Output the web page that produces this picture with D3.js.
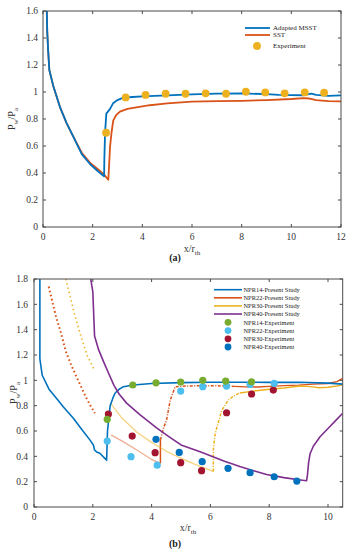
<!DOCTYPE html>
<html><head><meta charset="utf-8">
<script src="https://cdn.jsdelivr.net/npm/d3@7"></script>
<style>body{margin:0;background:#fff}svg{display:block}</style>
</head><body>
<script>
// ---------- Panel (a) data ----------
const aXTicks = [0,2,4,6,8,10,12];
const aYTicks = [0,0.2,0.4,0.6,0.8,1,1.2,1.4,1.6];
const aMsstX = [0.15,0.17,0.21,0.255,0.42,0.68,0.95,1.22,1.56,1.9,2.2,2.46,2.47,2.5,2.55,2.7,2.82,3.0,3.23,3.6,4,5,6,7,8,9,9.5,10,10.5,10.8,11,11.5,12];
const aMsstY = [1.62,1.45,1.3,1.163,1.04,0.89,0.77,0.67,0.54,0.465,0.415,0.375,0.5,0.7,0.84,0.875,0.916,0.94,0.958,0.963,0.968,0.975,0.982,0.988,0.99,0.984,0.978,0.977,0.976,0.988,0.978,0.972,0.975];
const aSstX = [0.15,0.17,0.21,0.255,0.42,0.68,0.95,1.22,1.56,1.9,2.2,2.45,2.63,2.66,2.7,2.76,2.83,2.95,3.1,3.4,3.64,4.3,5,6,7,8,9,10,10.5,10.7,11,11.5,12];
const aSstY = [1.62,1.45,1.3,1.163,1.04,0.89,0.77,0.67,0.55,0.475,0.43,0.39,0.35,0.45,0.595,0.7,0.79,0.83,0.855,0.875,0.882,0.902,0.915,0.928,0.932,0.935,0.94,0.948,0.955,0.952,0.94,0.932,0.93];
const aExpX = [2.54,3.33,4.13,4.94,5.74,6.55,7.37,8.17,8.95,9.73,10.54,11.32];
const aExpY = [0.698,0.96,0.978,0.987,0.987,0.99,0.987,1.002,0.997,0.99,0.997,0.995];
const aLegend = ["Adapted MSST","SST","Experiment"];

// ---------- Panel (b) data ----------
const bXTicks = [0,2,4,6,8,10];
const bYTicks = [0,0.2,0.4,0.6,0.8,1,1.2,1.4,1.6,1.8];
const b14X = [0.2,0.2,0.28,0.51,0.79,1.0,1.34,1.6,1.9,2.02,2.06,2.13,2.24,2.41,2.47,2.5,2.59,2.7,2.76,2.9,3.04,3.38,4,5,6,7,8,9,10,10.5];
const b14Y = [1.82,1.17,1.04,0.93,0.85,0.79,0.70,0.62,0.53,0.49,0.45,0.435,0.424,0.384,0.37,0.6,0.8,0.87,0.9,0.93,0.95,0.963,0.975,0.982,0.985,0.985,0.984,0.985,0.978,0.97];
const b22UpX = [0.5,0.74,0.91,1.08,1.25,1.42,1.6,1.76,1.92,2.07];
const b22UpY = [1.74,1.51,1.38,1.23,1.13,1.04,0.95,0.87,0.80,0.74];
const b22LowX = [2.62,3.0,3.5,4.0,4.3];
const b22LowY = [0.57,0.52,0.45,0.375,0.345];
const b22JumpX = [4.3,4.3];
const b22JumpY = [0.345,0.53];
const b22RecX = [4.3,4.4,4.51,4.63,4.8,5.2,5.6,6.2,6.8];
const b22RecY = [0.53,0.62,0.687,0.84,0.95,0.955,0.957,0.957,0.952];
const b22PlatX = [6.8,7.2,7.6,8,8.5,9,9.5,10,10.3,10.5];
const b22PlatY = [0.952,0.948,0.947,0.952,0.958,0.962,0.97,0.975,0.99,1.015];
const b30UpX = [1.08,1.2,1.36,1.59,1.81,2.04];
const b30UpY = [1.8,1.69,1.537,1.352,1.194,1.089];
const b30LowX = [2.6,3.0,3.5,4.0,4.5,5.0,5.5,6.0,6.1];
const b30LowY = [0.82,0.70,0.59,0.51,0.44,0.385,0.335,0.29,0.28];
const b30RecX = [6.1,6.1,6.15,6.21,6.38,6.61,6.84,7.0];
const b30RecY = [0.28,0.45,0.56,0.62,0.76,0.845,0.884,0.90];
const b30PlatX = [7.0,7.46,8.0,8.5,9.04,9.4,9.7,10.0,10.3,10.5];
const b30PlatY = [0.90,0.915,0.93,0.94,0.955,0.95,0.942,0.945,0.955,0.965];
const b40X = [1.93,2.0,2.06,2.2,2.38,2.53,2.72,2.9,3.15,3.6,4.17,4.5,5.0,5.65,6.0,6.5,6.78,7.0,7.5,7.91,8.5,9.0,9.27,9.3,9.34,9.39,9.5,9.73,10.0,10.25,10.5];
const b40Y = [1.8,1.7,1.35,1.24,1.14,1.06,0.96,0.89,0.82,0.73,0.625,0.57,0.49,0.436,0.405,0.36,0.338,0.32,0.285,0.257,0.232,0.215,0.207,0.25,0.35,0.42,0.48,0.555,0.62,0.68,0.74];
const bExp14X = [2.49,3.36,4.15,4.99,5.74,6.52,7.4];
const bExp14Y = [0.692,0.963,0.98,0.987,1.0,0.994,0.989];
const bExp22X = [2.49,3.3,4.19,4.99,5.74,6.55,7.35,8.17];
const bExp22Y = [0.521,0.397,0.33,0.915,0.95,0.955,0.968,0.976];
const bExp30X = [2.53,3.34,4.12,4.99,5.7,6.55,7.4,8.14];
const bExp30Y = [0.734,0.56,0.429,0.35,0.287,0.744,0.892,0.923];
const bExp40X = [4.15,4.94,5.72,6.6,7.35,8.17,8.94];
const bExp40Y = [0.534,0.431,0.358,0.305,0.271,0.239,0.205];
const bLegendLines = ["NPR14-Present Study","NPR22-Present Study","NPR30-Present Study","NPR40-Present Study"];
const bLegendDots = ["NPR14-Experiment","NPR22-Experiment","NPR30-Experiment","NPR40-Experiment"];

// ---------- drawing ----------
const C = {blue:"#0072BD", orange:"#D95319", yellow:"#EDB120", purple:"#7E2F8E",
           green:"#77AC30", lblue:"#4DBEEE", red:"#A2142F"};
const FONT = "'Liberation Serif','DejaVu Serif',serif";
const svg = d3.select("body").append("svg").attr("width",351).attr("height",550)
  .style("font-family",FONT);

const zip = (xs,ys)=>xs.map((x,i)=>[x,ys[i]]);

function frame(g,x,y,xt,yt,xFmt,labX,tickLen){
  const [x0,x1]=x.range(), [y0,y1]=y.range();
  const ax = g.append("g");
  ax.append("rect").attr("x",x0).attr("y",y1).attr("width",x1-x0).attr("height",y0-y1)
    .attr("fill","none").attr("stroke","#4a4a4a").attr("stroke-width",1);
  xt.forEach(t=>{
    const px=x(t);
    ax.append("line").attr("x1",px).attr("x2",px).attr("y1",y0).attr("y2",y0-tickLen).attr("stroke","#4a4a4a");
    ax.append("line").attr("x1",px).attr("x2",px).attr("y1",y1).attr("y2",y1+tickLen).attr("stroke","#4a4a4a");
    ax.append("text").attr("x",px).attr("y",y0+13).attr("text-anchor","middle")
      .attr("font-size",9.5).attr("fill","#333").text(t);
  });
  yt.forEach(t=>{
    const py=y(t);
    ax.append("line").attr("x1",x0).attr("x2",x0+tickLen).attr("y1",py).attr("y2",py).attr("stroke","#4a4a4a");
    ax.append("line").attr("x1",x1).attr("x2",x1-tickLen).attr("y1",py).attr("y2",py).attr("stroke","#4a4a4a");
    ax.append("text").attr("x",labX).attr("y",py+3.3).attr("text-anchor","end")
      .attr("font-size",9.5).attr("fill","#333").text(d3.format("~g")(t));
  });
}

function xLabel(g,cx,cy){
  const t=g.append("text").attr("x",cx).attr("y",cy).attr("text-anchor","middle")
    .attr("font-size",10).attr("fill","#333");
  t.append("tspan").text("x/r");
  t.append("tspan").attr("font-size",7).attr("dy",2.5).text("th");
}
function yLabel(g,cx,cy){
  const t=g.append("text").attr("transform",`translate(${cx},${cy}) rotate(-90)`)
    .attr("text-anchor","middle").attr("font-size",10).attr("fill","#333");
  t.append("tspan").text("P");
  t.append("tspan").attr("font-size",7).attr("dy",2.5).text("w");
  t.append("tspan").attr("dy",-2.5).text("/P");
  t.append("tspan").attr("font-size",7).attr("dy",2.5).text("a");
}

function path(g,x,y,pts,color,w,dash,op){
  const p=g.append("path").datum(pts)
    .attr("d",d3.line().x(d=>x(d[0])).y(d=>y(d[1])))
    .attr("fill","none").attr("stroke",color).attr("stroke-width",w)
    .attr("stroke-linejoin","round");
  if(dash) p.attr("stroke-dasharray",dash);
  if(op!=null) p.attr("stroke-opacity",op);
  return p;
}
function dots(g,x,y,xs,ys,color,r){
  g.selectAll(null).data(zip(xs,ys)).enter().append("circle")
    .attr("cx",d=>x(d[0])).attr("cy",d=>y(d[1])).attr("r",r).attr("fill",color);
}

// Panel (a)
{
  const x=d3.scaleLinear().domain([0,12]).range([43,341]);
  const y=d3.scaleLinear().domain([0,1.6]).range([227,11]);
  const g=svg.append("g");
  const clip=g.append("clipPath").attr("id","ca").append("rect")
    .attr("x",43).attr("y",11).attr("width",298).attr("height",216);
  const pg=g.append("g").attr("clip-path","url(#ca)");
  path(pg,x,y,zip(aSstX,aSstY),C.orange,1.8);
  path(pg,x,y,zip(aMsstX,aMsstY),C.blue,1.8);
  dots(pg,x,y,aExpX,aExpY,C.yellow,3.9);
  frame(g,x,y,aXTicks,aYTicks,null,38,3);
  xLabel(g,192,252);
  yLabel(g,15,119);
  g.append("text").attr("x",175).attr("y",261).attr("text-anchor","middle")
    .attr("font-size",10).attr("font-weight","bold").attr("fill","#222").text("(a)");
  // legend
  const lg=g.append("g").attr("font-size",7).attr("fill","#222");
  [[C.blue,28],[C.orange,35]].forEach(([c,yy],i)=>{
    lg.append("line").attr("x1",245).attr("x2",270).attr("y1",yy).attr("y2",yy)
      .attr("stroke",c).attr("stroke-width",1.8);
    lg.append("text").attr("x",273).attr("y",yy+2.4).text(aLegend[i]);
  });
  lg.append("circle").attr("cx",257).attr("cy",46).attr("r",3.9).attr("fill",C.yellow);
  lg.append("text").attr("x",273).attr("y",48.4).text(aLegend[2]);
}

// Panel (b)
{
  const x=d3.scaleLinear().domain([0,10.5]).range([34,342.7]);
  const y=d3.scaleLinear().domain([0,1.8]).range([507,279]);
  const g=svg.append("g");
  g.append("clipPath").attr("id","cb").append("rect")
    .attr("x",34).attr("y",279).attr("width",308.7).attr("height",228);
  const pg=g.append("g").attr("clip-path","url(#cb)");
  // NPR22
  path(pg,x,y,zip(b22UpX,b22UpY),C.orange,2,"1.6,2.6");
  path(pg,x,y,zip(b22LowX,b22LowY),C.orange,1.4,null,0.45);
  path(pg,x,y,zip(b22JumpX,b22JumpY),C.orange,1.5);
  path(pg,x,y,zip(b22RecX,b22RecY),C.orange,1.5,"3,1.5,1,1.5");
  path(pg,x,y,zip(b22PlatX,b22PlatY),C.orange,1.4);
  // NPR30
  path(pg,x,y,zip(b30UpX,b30UpY),C.yellow,1.6,"1.4,3");
  path(pg,x,y,zip(b30LowX,b30LowY),C.yellow,1.4,null,0.55);
  path(pg,x,y,zip(b30RecX,b30RecY),C.yellow,1.5,"3,1.5,1,1.5");
  path(pg,x,y,zip(b30PlatX,b30PlatY),C.yellow,1.4);
  // NPR14 and NPR40
  path(pg,x,y,zip(b14X,b14Y),C.blue,1.6);
  path(pg,x,y,zip(b40X,b40Y),C.purple,1.6);
  dots(pg,x,y,bExp30X,bExp30Y,C.red,3.6);
  dots(pg,x,y,bExp40X,bExp40Y,C.blue,3.6);
  dots(pg,x,y,bExp22X,bExp22Y,C.lblue,3.6);
  dots(pg,x,y,bExp14X,bExp14Y,C.green,3.6);
  frame(g,x,y,bXTicks,bYTicks,null,28,3);
  xLabel(g,188,531);
  yLabel(g,17,393);
  g.append("text").attr("x",175).attr("y",547).attr("text-anchor","middle")
    .attr("font-size",10).attr("font-weight","bold").attr("fill","#222").text("(b)");
  const lg=g.append("g").attr("font-size",6.4).attr("fill","#222");
  const lc=[C.blue,C.orange,C.yellow,C.purple];
  const dc=[C.green,C.lblue,C.red,C.blue];
  const rowsY=[289.7,297.8,305.9,314,322.3,330.6,338.8,347];
  lc.forEach((c,i)=>{
    lg.append("line").attr("x1",214).attr("x2",242).attr("y1",rowsY[i]).attr("y2",rowsY[i])
      .attr("stroke",c).attr("stroke-width",1.6);
    lg.append("text").attr("x",243.5).attr("y",rowsY[i]+2.2).text(bLegendLines[i]);
  });
  dc.forEach((c,i)=>{
    lg.append("circle").attr("cx",228).attr("cy",rowsY[i+4]).attr("r",3.4).attr("fill",c);
    lg.append("text").attr("x",243.5).attr("y",rowsY[i+4]+2.2).text(bLegendDots[i]);
  });
}
</script>
</body></html>
